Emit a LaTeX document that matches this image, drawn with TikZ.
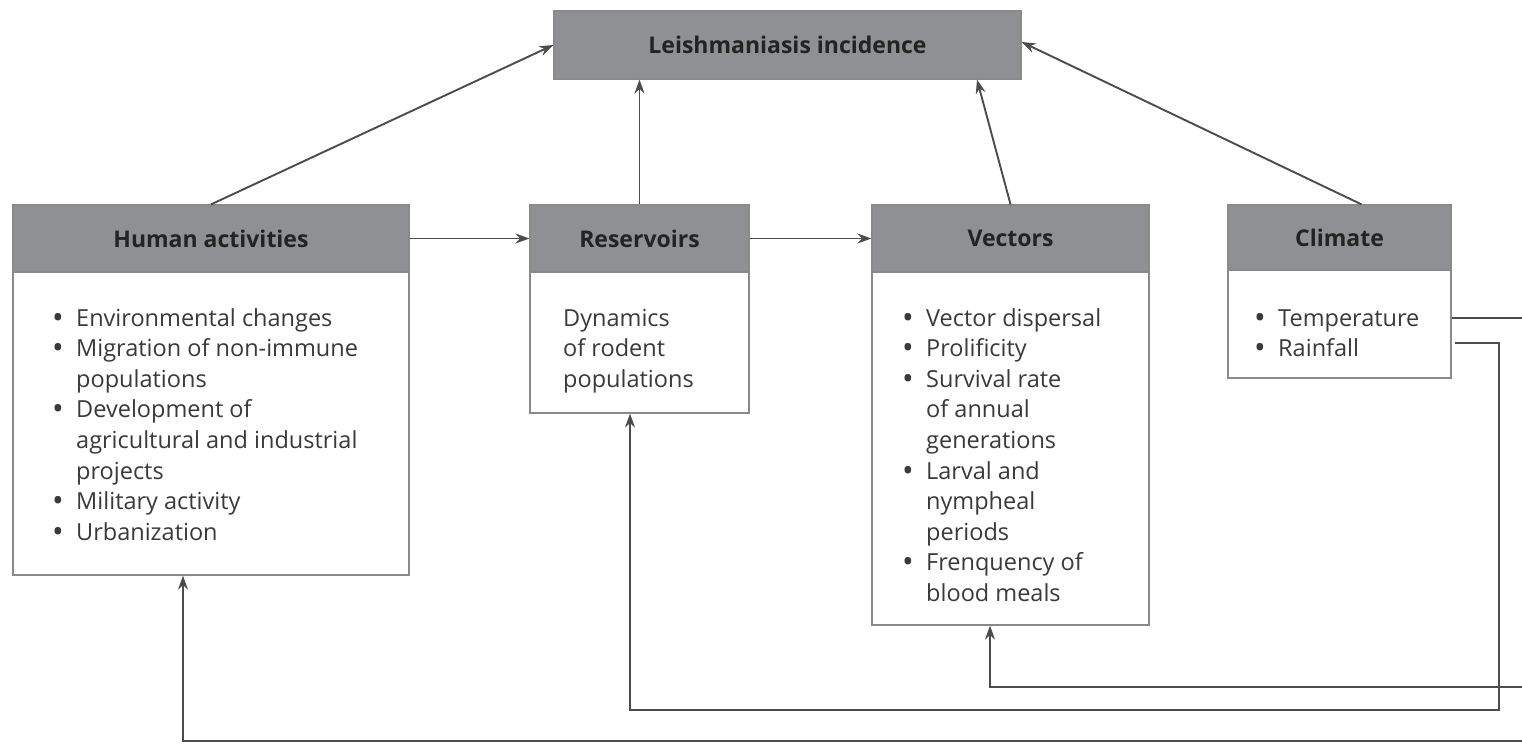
\documentclass[tikz,border=0pt]{standalone}
\usepackage{fontspec}
\setmainfont{Open Sans}[Ligatures=NoCommon]
\usetikzlibrary{arrows.meta,calc}
\definecolor{headc}{HTML}{8E9094}
\definecolor{boxc}{HTML}{8A8A8A}
\definecolor{linec}{HTML}{4C4C4C}
\definecolor{bodyt}{HTML}{3A3A3A}
\definecolor{headt}{HTML}{232323}
\newcommand{\bl}{\makebox[24pt][l]{\raisebox{-2pt}{\fontsize{31}{31}\selectfont\textbullet}}}
\newcommand{\ih}{\hspace*{24pt}}
\tikzset{
  headbox/.style={draw=boxc, fill=headc, line width=1.2pt, inner sep=0pt,
    font=\fontsize{23}{28}\selectfont\bfseries, text=headt},
  bodybox/.style={draw=boxc, fill=white, line width=1.2pt, inner sep=0pt},
  txt/.style={inner sep=0pt, anchor=north west, align=left,
    font=\fontsize{23.5}{30.6}\selectfont, text=bodyt},
  conn/.style={draw=linec, line width=1.9pt, -{Stealth[length=14pt,width=10pt]}},
  plain/.style={draw=linec, line width=1.9pt}
}
\begin{document}
\begin{tikzpicture}[x=1pt,y=-1pt]
\useasboundingbox[fill=white] (0,0) rectangle (1522,744);
% top
\node[headbox, minimum width=467pt, minimum height=68pt] (top) at (787.5,45) {Leishmaniasis incidence};
% human activities
\node[headbox, minimum width=396pt, minimum height=67pt] (humh) at (211,238.5) {Human activities};
\node[bodybox, minimum width=396pt, minimum height=303pt] (humb) at (211,423.5) {};
\node[txt] (humt) at (52,304.5) {\strut\bl Environmental changes\\
\bl Migration of non-immune\\
\ih populations\\
\bl Development of\\
\ih agricultural and industrial\\
\ih projects\\
\bl Military activity\\
\bl Urbanization};
% reservoirs
\node[headbox, minimum width=219pt, minimum height=67pt] (resh) at (639.5,238.5) {Reservoirs};
\node[bodybox, minimum width=219pt, minimum height=141pt] (resb) at (639.5,342.5) {};
\node[txt] (rest) at (563,304.5) {\strut Dynamics\\ of rodent\\ populations};
% vectors
\node[headbox, minimum width=277pt, minimum height=67pt] (vech) at (1010.5,238.5) {Vectors};
\node[bodybox, minimum width=277pt, minimum height=353pt] (vecb) at (1010.5,448.5) {};
\node[txt] (vect) at (902,304.5) {\strut\bl Vector dispersal\\
\bl Prolificity\\
\bl Survival rate\\
\ih of annual\\
\ih generations\\
\bl Larval and\\
\ih nympheal\\
\ih periods\\
\bl Frenquency of\\
\ih blood meals};
% climate
\node[headbox, minimum width=223pt, minimum height=65pt] (clih) at (1339.5,237.5) {Climate};
\node[bodybox, minimum width=223pt, minimum height=108pt] (clib) at (1339.5,324) {};
\node[txt] (clit) at (1254,304.5) {\strut\bl Temperature\\ \bl Rainfall};
% free ends
\coordinate (tempend) at (1522,318);
\coordinate (rainst) at (1455,343);
\coordinate (rainc) at (1499,343);
\coordinate (vecst) at (1522,687);
\coordinate (humst) at (1522,741);
% connectors
\draw[conn] (humh.north) -- (top.west);
\draw[conn] (resh.north) -- (resh.north |- top.south);
\draw[conn] (vech.north) -- ([xshift=189.5pt]top.south);
\draw[conn] ([xshift=22pt]clih.north) -- ([yshift=3pt]top.east);
\draw[conn] (humh.east) -- (resh.west);
\draw[conn] (resh.east) -- (vech.west);
\draw[plain] (clib.east |- tempend) -- (tempend);
\draw[conn] (rainst) -- (rainc) |- (1499,710) -| ([xshift=-9.5pt]resb.south);
\draw[conn] (vecst) -| ([xshift=-20.5pt]vecb.south);
\draw[conn] (humst) -| ([xshift=-28pt]humb.south);
\end{tikzpicture}
\end{document}
